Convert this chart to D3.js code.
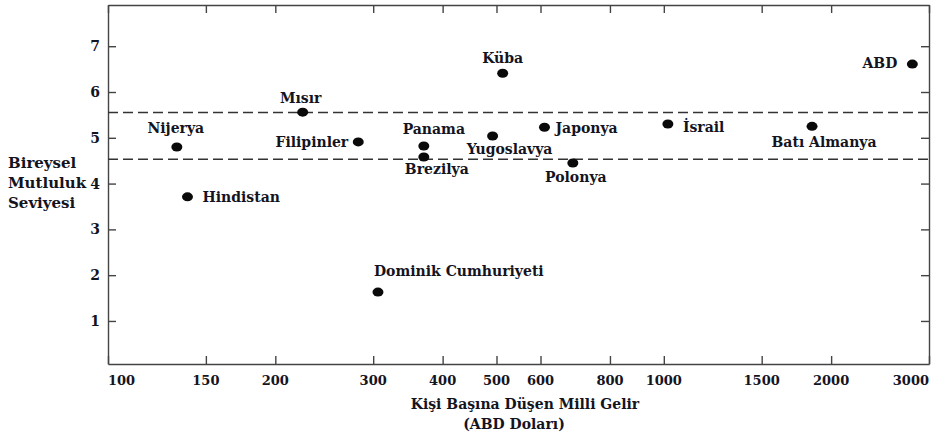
<!doctype html>
<html>
<head>
<meta charset="utf-8">
<title>Mutluluk ve Gelir</title>
<style>
  body { margin: 0; background: #fff; }
  text { font-family: "DejaVu Serif", serif; font-weight: bold; fill: #14141e; }
</style>
</head>
<body>
<div id="here"></div>
<script src="https://d3js.org/d3.v7.min.js"></script>
<script>
   var w = 936, h = 434;

   // veriler
   var ulkeler = ['Nijerya', 'Hindistan', 'Mısır', 'Filipinler', 'Panama', 'Brezilya', 'Dominik Cumhuriyeti',
                  'Küba', 'Yugoslavya', 'Japonya', 'Polonya', 'İsrail', 'Batı Almanya', 'ABD'];
   var gelir = [133, 139, 224, 282, 370, 370, 306, 513, 492, 610, 686, 1017, 1848, 2800];
   var mutluluk = [4.80, 3.71, 5.56, 4.91, 4.82, 4.58, 1.63, 6.41, 5.04, 5.23, 4.45, 5.30, 5.25, 6.61];
   var xTicks = [100, 150, 200, 300, 400, 500, 600, 800, 1000, 1500, 2000, 3000];
   var yTicks = [1, 2, 3, 4, 5, 6, 7];
   var bant = [5.55, 4.53];

   // etiketlerin noktaya gore yeri
   var etiketYeri = {
      'Nijerya': ['middle', -1, -14],
      'Hindistan': ['start', 15, 5],
      'Mısır': ['middle', -2, -9],
      'Filipinler': ['end', -10, 5],
      'Panama': ['middle', 10, -12],
      'Brezilya': ['middle', 13, 17],
      'Dominik Cumhuriyeti': ['start', -4, -16],
      'Küba': ['middle', 0, -10],
      'Yugoslavya': ['middle', 17, 18],
      'Japonya': ['start', 11, 6],
      'Polonya': ['middle', 3, 19],
      'İsrail': ['start', 15, 8],
      'Batı Almanya': ['middle', 12, 21],
      'ABD': ['end', -15, 4]
   };

   // "top" window'da ayrilmis, o yuzden m on eki
   var mLeft = 108, mRight = 929, mTop = 5, mBottom = 364;

   var x = d3.scaleLog().domain([100, 3000]).range([mLeft, mRight]);
   var y = d3.scaleLinear().domain([0.06, 7.9]).range([mBottom, mTop]);

   var svg = d3.select('#here').append('svg')
      .attr('width', w)
      .attr('height', h);

   // cerceve ve eksenler (tickler iceri dogru)
   var tickLen = 8;
   svg.append('g')
      .attr('transform', 'translate(0,' + mBottom + ')')
      .call(d3.axisBottom(x).tickValues(xTicks).tickFormat('').tickSizeInner(-tickLen).tickSizeOuter(0));
   svg.append('g')
      .attr('transform', 'translate(0,' + mTop + ')')
      .call(d3.axisTop(x).tickValues(xTicks).tickFormat('').tickSizeInner(-tickLen).tickSizeOuter(0));
   svg.append('g')
      .attr('transform', 'translate(' + mLeft + ',0)')
      .call(d3.axisLeft(y).tickValues(yTicks).tickFormat('').tickSizeInner(-tickLen).tickSizeOuter(0));
   svg.append('g')
      .attr('transform', 'translate(' + mRight + ',0)')
      .call(d3.axisRight(y).tickValues(yTicks).tickFormat('').tickSizeInner(-tickLen).tickSizeOuter(0));
   svg.selectAll('.domain, .tick line').attr('stroke', '#444').attr('stroke-width', 1.4);

   // tick etiketleri
   svg.selectAll('.xlab')
      .data(xTicks)
      .enter().append('text')
      .attr('x', function(d) { return x(d); })
      .attr('y', mBottom + 21)
      .attr('text-anchor', function(d, i) { return i == 0 ? 'start' : (i == xTicks.length - 1 ? 'end' : 'middle'); })
      .style('font-size', '13px')
      .text(function(d) { return d; });

   svg.selectAll('.ylab')
      .data(yTicks)
      .enter().append('text')
      .attr('x', mLeft - 8)
      .attr('y', function(d) { return y(d) + 5; })
      .attr('text-anchor', 'end')
      .style('font-size', '14px')
      .text(function(d) { return d; });

   // kesikli bant
   svg.selectAll('.bant')
      .data(bant)
      .enter().append('line')
      .attr('x1', mLeft).attr('x2', mRight)
      .attr('y1', function(d) { return y(d); })
      .attr('y2', function(d) { return y(d); })
      .attr('stroke', '#333')
      .attr('stroke-width', 1.5)
      .attr('stroke-dasharray', '10,5');

   // noktalar
   var g = svg.selectAll('.ulke')
      .data(ulkeler)
      .enter().append('g');

   g.append('ellipse')
      .attr('cx', function(d, i) { return x(gelir[i]); })
      .attr('cy', function(d, i) { return y(mutluluk[i]); })
      .attr('rx', 5.5)
      .attr('ry', 4.5)
      .attr('fill', '#0a0a0a');

   g.append('text')
      .attr('x', function(d, i) { return x(gelir[i]) + etiketYeri[d][1]; })
      .attr('y', function(d, i) { return y(mutluluk[i]) + etiketYeri[d][2]; })
      .attr('text-anchor', function(d) { return etiketYeri[d][0]; })
      .style('font-size', '14px')
      .text(function(d) { return d; });

   // eksen basliklari
   svg.append('text')
      .attr('x', 525).attr('y', 409)
      .attr('text-anchor', 'middle')
      .style('font-size', '14px')
      .text('Kişi Başına Düşen Milli Gelir');
   svg.append('text')
      .attr('x', 514).attr('y', 429)
      .attr('text-anchor', 'middle')
      .style('font-size', '14px')
      .text('(ABD Doları)');

   var ybaslik = svg.append('text')
      .attr('x', 8).attr('y', 168)
      .style('font-size', '15px');
   ybaslik.selectAll('tspan')
      .data(['Bireysel', 'Mutluluk', 'Seviyesi'])
      .enter().append('tspan')
      .attr('x', 8)
      .attr('dy', function(d, i) { return i == 0 ? 0 : 20; })
      .text(function(d) { return d; });
</script>
</body>
</html>
